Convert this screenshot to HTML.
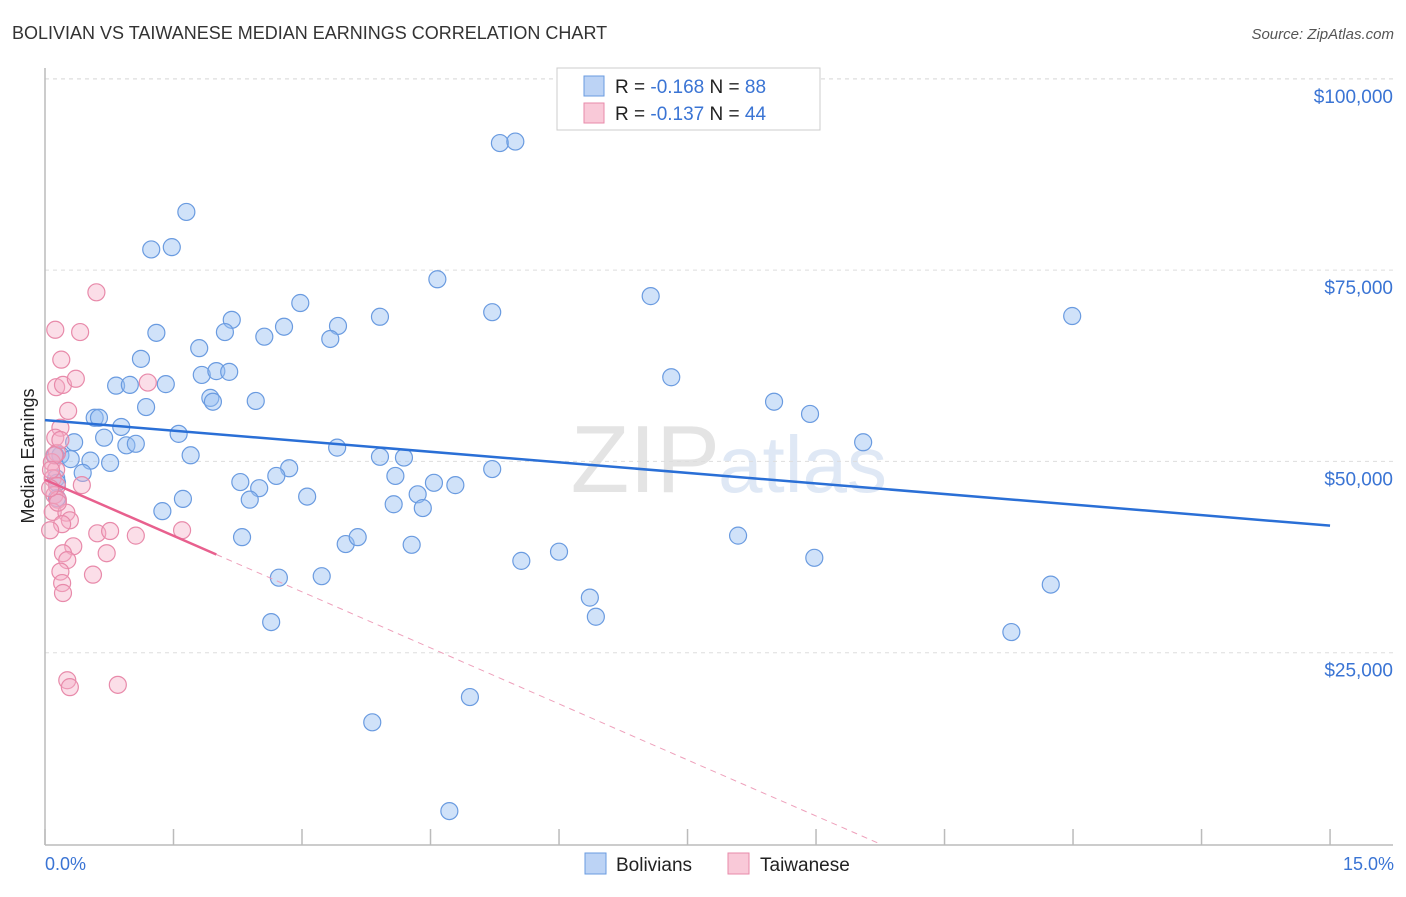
<!DOCTYPE html>
<html><head><meta charset="utf-8"><style>
body{margin:0;background:#fff;font-family:"Liberation Sans",sans-serif}
svg text{font-family:"Liberation Sans",sans-serif}
</style></head><body>
<svg id="chart" width="1406" height="892" viewBox="0 0 1406 892" xmlns="http://www.w3.org/2000/svg">
<text x="12" y="39" font-size="18" fill="#333">BOLIVIAN VS TAIWANESE MEDIAN EARNINGS CORRELATION CHART</text>
<text x="1394" y="39" font-size="15" fill="#555" font-style="italic" text-anchor="end">Source: ZipAtlas.com</text>
<text x="720" y="492" font-size="96" fill="#e4e4e4" text-anchor="end" font-family="Liberation Serif">ZIP</text>
<text x="718" y="492" font-size="80" fill="#dfe8f5">atlas</text>
<g id="grid"></g>
<g id="axes"></g>
<g id="pts"></g>
<g id="trends"></g>
<text transform="translate(34,456) rotate(-90)" font-size="18" fill="#222" text-anchor="middle">Median Earnings</text>
<text x="45" y="870" font-size="18" fill="#3a74d4">0.0%</text>
<text x="1394" y="870" font-size="18" fill="#3a74d4" text-anchor="end">15.0%</text>
<g>
<rect x="557" y="68" width="263" height="62" fill="#fff" stroke="#ccc"/>
<rect x="584" y="76" width="20" height="20" fill="#bcd3f5" stroke="#6a9be0"/>
<text x="615" y="93" font-size="19" fill="#222">R = <tspan fill="#3a74d4">-0.168</tspan>   N = <tspan fill="#3a74d4">88</tspan></text>
<rect x="584" y="103" width="20" height="20" fill="#f9c9d8" stroke="#e88aaa"/>
<text x="615" y="120" font-size="19" fill="#222">R = <tspan fill="#3a74d4">-0.137</tspan>   N = <tspan fill="#3a74d4">44</tspan></text>
</g>
<g>
<rect x="585" y="853" width="21" height="21" fill="#bcd3f5" stroke="#6a9be0"/>
<text x="616" y="871" font-size="19" fill="#222">Bolivians</text>
<rect x="728" y="853" width="21" height="21" fill="#f9c9d8" stroke="#e88aaa"/>
<text x="760" y="871" font-size="19" fill="#222">Taiwanese</text>
</g>
</svg>
<script>
const yTicks=[25000,50000,75000,100000];
const yTickLabels=["$25,000","$50,000","$75,000","$100,000"];
const xTicks=[0,1.5,3,4.5,6,7.5,9,10.5,12,13.5,15];
const bolX=[1.65,1.24,1.48,5.31,5.49,4.58,7.07,5.22,2.98,3.91,2.18,2.10,1.30,2.56,2.79,3.42,3.33,1.80,1.12,0.83,0.99,1.41,1.83,2.00,2.15,1.93,1.96,2.46,1.18,0.58,0.63,0.89,0.34,0.69,0.95,1.06,1.56,0.18,0.30,0.53,0.76,1.70,3.41,3.91,4.19,2.85,2.70,2.28,2.50,2.39,1.61,1.37,0.13,0.14,0.14,3.06,4.09,4.35,4.54,4.79,4.07,4.41,5.22,2.30,3.51,3.65,4.28,2.73,3.23,2.64,5.56,6.00,6.36,6.43,4.96,3.82,4.72,7.31,8.51,8.93,9.55,8.09,8.98,11.99,11.74,11.28,0.44,0.12];
const bolY=[82.6,77.7,78.0,91.6,91.8,73.8,71.6,69.5,70.7,68.9,68.5,66.9,66.8,66.3,67.6,67.7,66.0,64.8,63.4,59.9,60.0,60.1,61.3,61.8,61.7,58.3,57.8,57.9,57.1,55.7,55.7,54.5,52.5,53.1,52.1,52.3,53.6,50.8,50.3,50.1,49.8,50.8,51.8,50.6,50.5,49.1,48.1,47.3,46.5,45.0,45.1,43.5,47.8,47.2,45.2,45.4,48.1,45.7,47.2,46.9,44.4,43.9,49.0,40.1,39.2,40.1,39.1,34.8,35.0,29.0,37.0,38.2,32.2,29.7,19.2,15.9,4.3,61.0,57.8,56.2,52.5,40.3,37.4,69.0,33.9,27.7,48.5,50.8];
const taiX=[0.60,0.12,0.41,0.19,0.13,0.21,0.36,1.20,0.27,0.18,0.14,0.08,0.13,0.09,0.14,0.11,0.15,0.09,0.25,0.29,0.20,0.06,0.61,0.76,1.60,1.06,0.72,0.33,0.21,0.26,0.18,0.56,0.20,0.21,0.26,0.29,0.85,0.43,0.12,0.15,0.06,0.11,0.18,0.07];
const taiY=[72.1,67.2,66.9,63.3,59.7,60.0,60.8,60.3,56.6,54.4,51.1,49.9,48.9,47.8,46.8,45.6,45.0,43.4,43.3,42.3,41.8,41.0,40.6,40.9,41.0,40.3,38.0,38.9,38.0,37.1,35.6,35.2,34.1,32.8,21.4,20.5,20.8,46.9,53.1,44.6,46.5,50.8,52.8,48.9];
const bolTrend=[55.4,41.6];
const taiTrend=[47.6,0];
const taiSolidEnd=2.0, taiZeroX=9.75;
const NS="http://www.w3.org/2000/svg";
const X=v=>45+v*85.67;
const Y=k=>844-k*7.652;
function mk(t,a,p){const e=document.createElementNS(NS,t);for(const k in a)e.setAttribute(k,a[k]);document.getElementById(p).appendChild(e);return e;}
yTicks.forEach((t,i)=>{
 const g=mk('line',{x1:45,x2:1393,y1:Y(t/1000),y2:Y(t/1000),stroke:'#ddd','stroke-dasharray':'4,4'},'grid');
 
 
 const l=mk('text',{x:1393,y:Y(t/1000)+24,'font-size':19,fill:'#3a74d4','text-anchor':'end'},'grid');
 l.textContent=yTickLabels[i];
 
 
});
const tg=mk('line',{x1:45,x2:1393,y1:79,y2:79,stroke:'#ddd','stroke-dasharray':'4,4'},'grid');


const ya=mk('line',{x1:45,x2:45,y1:68,y2:845,stroke:'#bbb','stroke-width':1.5},'axes');


const xa=mk('line',{x1:45,x2:1393,y1:845,y2:845,stroke:'#bbb','stroke-width':1.5},'axes');


xTicks.forEach(t=>{
 const e=mk('line',{x1:X(t),x2:X(t),y1:829,y2:845,stroke:'#bbb','stroke-width':1.5},'axes');
 
 
});
bolX.forEach((x,i)=>{
 const c=mk('circle',{cx:X(x),cy:Y(bolY[i]),r:8.5,fill:'rgba(150,190,242,0.45)',stroke:'#6a9be0','stroke-width':1.2},'pts');
 
 
});
taiX.forEach((x,i)=>{
 const c=mk('circle',{cx:X(x),cy:Y(taiY[i]),r:8.5,fill:'rgba(246,172,197,0.4)',stroke:'#e88aaa','stroke-width':1.2},'pts');
 
 
});
const bl=mk('line',{x1:X(0),y1:Y(bolTrend[0]),x2:X(15),y2:Y(bolTrend[1]),stroke:'#2a6fd6','stroke-width':2.5},'trends');


const ty=x=>taiTrend[0]+(taiTrend[1]-taiTrend[0])*x/taiZeroX;
const tl=mk('line',{x1:X(0),y1:Y(ty(0)),x2:X(taiSolidEnd),y2:Y(ty(taiSolidEnd)),stroke:'#e8608e','stroke-width':2.5},'trends');


const td=mk('line',{x1:X(taiSolidEnd),y1:Y(ty(taiSolidEnd)),x2:X(taiZeroX),y2:Y(0),stroke:'#eea0bb','stroke-width':1,'stroke-dasharray':'6,5'},'trends');


</script>
</body></html>
